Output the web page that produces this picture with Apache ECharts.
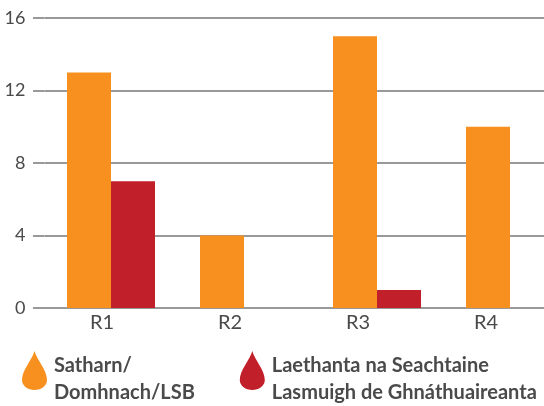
<!DOCTYPE html>
<html>
<head>
<meta charset="utf-8">
<style>html,body{margin:0;padding:0;background:#fff}#main{width:544px;height:406px}</style>
<script src="https://cdn.jsdelivr.net/npm/echarts@6/dist/echarts.min.js"></script>
</head>
<body>
<div id="main"></div>
<script>
var categories = ['R1', 'R2', 'R3', 'R4'];
var weekend = [13, 4, 15, 10];
var weekday = [7, null, 1, null];
var yTicks = [0, 4, 8, 12, 16];
var names = ['Satharn/\nDomhnach/LSB', 'Laethanta na Seachtaine\nLasmuigh de Ghnáthuaireanta'];

// drop sits high next to the text in the source, the empty subpath at the end keeps 18px free under it
var drop = 'path://M12.500 0C15 9 25 19 25 29C25 35 19 39 12.500 39C6 39 0 35 0 29C0 19 10 9 12.500 0ZM12.500 57L12.500 57Z';
var font = 'Lato, sans-serif';
var gridGrey = '#999999';

var myChart = echarts.init(document.getElementById('main'), null, {renderer: 'canvas'});
var option = {
    animation: false,
    backgroundColor: '#fff',
    legend: {
        left: 22,
        top: 351,
        padding: 0,
        itemWidth: 25,
        itemHeight: 57,
        itemGap: 45,
        selectedMode: false,
        data: [
            {name: names[0], icon: drop},
            {name: names[1], icon: drop}
        ],
        textStyle: {
            fontFamily: font,
            fontSize: 20,
            fontWeight: 'bold',
            color: '#4a4a4a',
            lineHeight: 27,
            padding: [0, 0, 0, 2]
        }
    },
    grid: [
        // bars: runs past the right edge of the window like the source
        {left: 44.5, width: 532, top: 18, height: 290, outerBoundsMode: 'none'},
        // labels only, they sit left of the bar pairs in the source
        {left: 38, width: 512, top: 18, height: 290, outerBoundsMode: 'none'}
    ],
    xAxis: [
        {
            type: 'category',
            gridIndex: 0,
            data: categories,
            axisLine: {onZero: false, lineStyle: {color: gridGrey, width: 2}},
            axisTick: {show: false},
            axisLabel: {show: false}
        },
        {
            type: 'category',
            gridIndex: 1,
            data: categories,
            axisLine: {show: false},
            axisTick: {show: false},
            axisLabel: {
                margin: 5,
                fontFamily: font,
                fontSize: 20,
                color: '#4a4a4a'
            }
        }
    ],
    yAxis: [
        {
            type: 'value',
            gridIndex: 0,
            min: yTicks[0],
            max: yTicks[yTicks.length - 1],
            interval: yTicks[1],
            axisLine: {show: false},
            axisTick: {show: true, length: 11.5, lineStyle: {color: gridGrey, width: 2}},
            axisLabel: {
                margin: 19,
                fontFamily: font,
                fontSize: 18,
                color: '#4a4a4a'
            },
            splitLine: {lineStyle: {color: gridGrey, width: 2}}
        },
        {
            type: 'value',
            gridIndex: 1,
            show: false
        }
    ],
    series: [
        {
            name: names[0],
            type: 'bar',
            xAxisIndex: 0,
            yAxisIndex: 0,
            data: weekend,
            barWidth: 44,
            barGap: 0,
            itemStyle: {color: '#f7901e'}
        },
        {
            name: names[1],
            type: 'bar',
            xAxisIndex: 0,
            yAxisIndex: 0,
            data: weekday,
            barWidth: 44,
            barGap: 0,
            itemStyle: {color: '#c1202a'}
        }
    ]
};
myChart.setOption(option);
</script>
</body>
</html>
